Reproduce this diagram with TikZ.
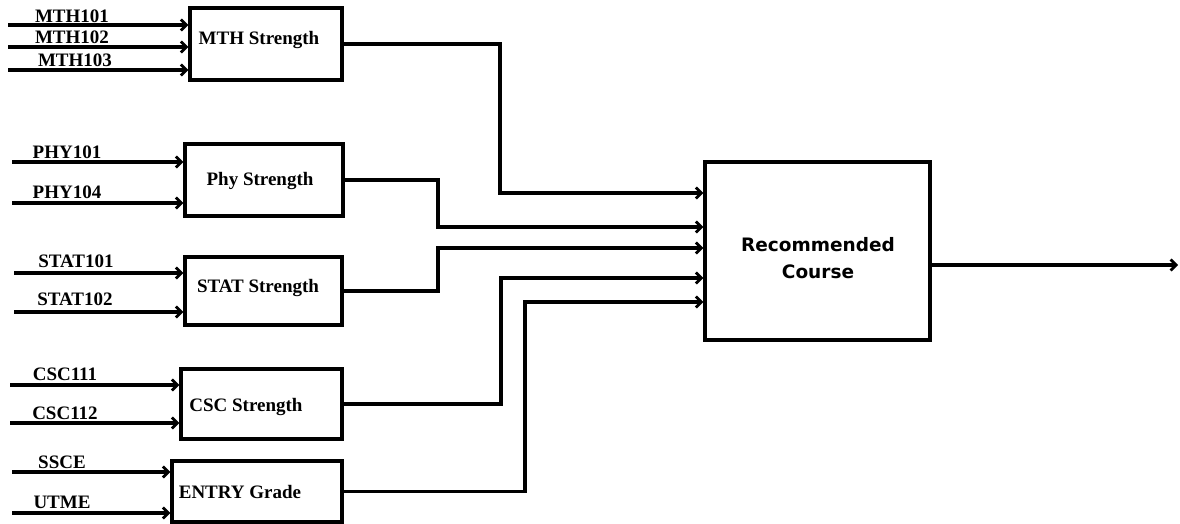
\documentclass[tikz,border=0pt]{standalone}
\usepackage{fontspec}
\setmainfont{Liberation Serif}
\newfontfamily\recfont{DejaVu Sans}
\usetikzlibrary{arrows.meta}
\begin{document}
\begin{tikzpicture}[x=1pt,y=-1pt,
  blk/.style={draw,line width=3.4pt,minimum width=#1,inner sep=0pt},
  lbl/.style={font=\fontsize{19}{21}\selectfont\bfseries,inner sep=0pt},
  conn/.style={line width=3.3pt,-{Straight Barb[length=5.5pt,width=11pt,line width=2.8pt]}}]
\useasboundingbox (0,0) rectangle (1180,524);
% boxes
\node[blk=152pt,minimum height=72pt] (mth) at (266,44) {};
\node[blk=158pt,minimum height=72pt] (phy) at (264,180) {};
\node[blk=157pt,minimum height=68pt] (stat) at (263.5,291) {};
\node[blk=161pt,minimum height=70pt] (csc) at (261.5,404) {};
\node[blk=170pt,minimum height=61pt] (entry) at (257,491.5) {};
\node[blk=225pt,minimum height=178pt] (rec) at (817.5,251) {};
% box labels
\node[lbl] (mthl) at (259,40) {MTH Strength};
\node[lbl] (phyl) at (260,181) {Phy Strength};
\node[lbl] (statl) at (258,288) {STAT Strength};
\node[lbl] (cscl) at (246,407) {CSC Strength};
\node[lbl] (entryl) at (240,492) {ENTRY Grade};
\node[font=\recfont\bfseries\fontsize{18.5}{27}\selectfont,align=center,inner sep=0pt] (recl) at (818,258) {Recommended\\Course};
% input labels
\node[lbl] (l1) at (72,16) {MTH101};
\node[lbl] (l2) at (72,37) {MTH102};
\node[lbl] (l3) at (75,60) {MTH103};
\node[lbl] (l4) at (67,152) {PHY101};
\node[lbl] (l5) at (67,192) {PHY104};
\node[lbl] (l6) at (76,261) {STAT101};
\node[lbl] (l7) at (75,299) {STAT102};
\node[lbl] (l8) at (65,374) {CSC111};
\node[lbl] (l9) at (65,413) {CSC112};
\node[lbl] (l10) at (62,462) {SSCE};
\node[lbl] (l11) at (62,502) {UTME};
% input start points
\coordinate (s1) at (8,25);
\coordinate (s2) at (8,47);
\coordinate (s3) at (8,70);
\coordinate (s4) at (12,162);
\coordinate (s5) at (12,203);
\coordinate (s6) at (14,273);
\coordinate (s7) at (14,312);
\coordinate (s8) at (10,385);
\coordinate (s9) at (10,423);
\coordinate (s10) at (12,472);
\coordinate (s11) at (12,513);
\draw[conn] (s1) -- (s1 -| mth.west);
\draw[conn] (s2) -- (s2 -| mth.west);
\draw[conn] (s3) -- (s3 -| mth.west);
\draw[conn] (s4) -- (s4 -| phy.west);
\draw[conn] (s5) -- (s5 -| phy.west);
\draw[conn] (s6) -- (s6 -| stat.west);
\draw[conn] (s7) -- (s7 -| stat.west);
\draw[conn] (s8) -- (s8 -| csc.west);
\draw[conn] (s9) -- (s9 -| csc.west);
\draw[conn] (s10) -- (s10 -| entry.west);
\draw[conn] (s11) -- (s11 -| entry.west);
% outputs to recommended
\draw[conn] (mth.east) -- (500,44) -- (500,193) -- (rec.west |- 0,193);
\draw[conn] (phy.east) -- (438,180) -- (438,227) -- (rec.west |- 0,227);
\draw[conn] (stat.east) -- (438,291) -- (438,248) -- (rec.west |- 0,248);
\draw[conn] (csc.east) -- (501,404) -- (501,278) -- (rec.west |- 0,278);
\draw[conn] (entry.east) -- (525,491.5) -- (525,302) -- (rec.west |- 0,302);
\coordinate (out) at (1178,265);
\draw[conn] (rec.east |- out) -- (out);
\end{tikzpicture}
\end{document}
